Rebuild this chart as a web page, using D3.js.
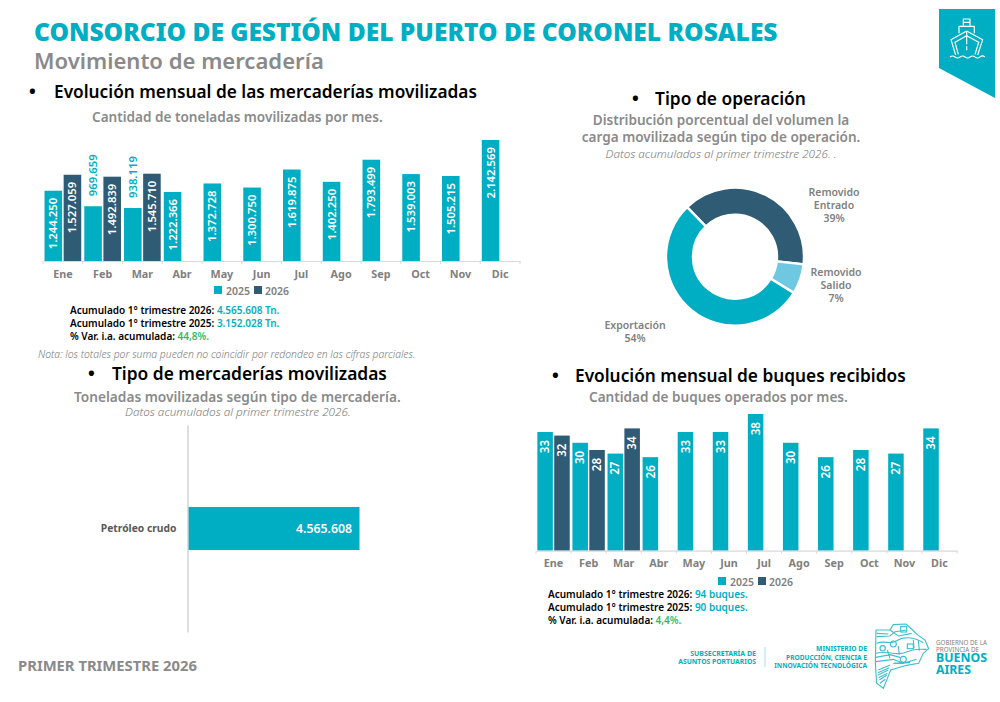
<!DOCTYPE html>
<html>
<head>
<meta charset="utf-8">
<script src="https://cdn.jsdelivr.net/npm/d3@7"></script>
<style>
    html, body { margin: 0; padding: 0; background: #fff; }
    svg { display: block; }
    text { font-family: "Noto Sans", sans-serif; }
</style>
</head>
<body>
<div id="chart"></div>
<script>
// data
var months = ["Ene", "Feb", "Mar", "Abr", "May", "Jun", "Jul", "Ago", "Sep", "Oct", "Nov", "Dic"];
var seriesNames = ["2025", "2026"];

var tons2025 = [1244250, 969659, 938119, 1222366, 1372728, 1300750, 1619875, 1402250, 1793499, 1539003, 1505215, 2142569];
var tons2026 = [1527059, 1492839, 1545710];

var ships2025 = [33, 30, 27, 26, 33, 33, 38, 30, 26, 28, 27, 34];
var ships2026 = [32, 28, 34];

var opLabels = [["Removido", "Entrado"], ["Removido", "Salido"], ["Exportación"]];
var opValues = [39, 7, 54];

var goodsLabels = ["Petróleo crudo"];
var goodsValues = [4565608];

var teal = "#00AEC3", navy = "#2F5B75", sky = "#6FC8E2", grey = "#8A8A8A", green = "#2EBB6A";

var es = d3.formatLocale({decimal: ",", thousands: ".", grouping: [3], currency: ["", ""]});
var fmt = es.format(",");

var svg = d3.select("#chart").append("svg")
    .attr("width", 1000)
    .attr("height", 702);

// text helper, w = target width in px (font size gets scaled to it)
function put(str, x, y, size, opt) {
    opt = opt || {};
    var t = svg.append("text")
        .attr("x", x).attr("y", y)
        .attr("font-size", size)
        .attr("font-weight", opt.weight || 400)
        .attr("font-style", opt.italic ? "italic" : null)
        .attr("text-anchor", opt.anchor || "start")
        .attr("fill", opt.color || "#000")
        .text(str);
    if (opt.w) {
        var len = t.node().getComputedTextLength();
        t.attr("font-size", size * opt.w / len);
    }
    return t;
}

// note line: black label followed by coloured value
function note(label, value, x, y, color) {
    var t = svg.append("text")
        .attr("x", x).attr("y", y)
        .attr("font-size", 10)
        .attr("font-weight", 600);
    t.append("tspan").attr("fill", "#000").text(label + " ");
    t.append("tspan").attr("fill", color).attr("font-weight", 600).text(value);
}

// header
put("CONSORCIO DE GESTIÓN DEL PUERTO DE CORONEL ROSALES", 34, 41, 24, {weight: 900, color: teal, w: 744});
put("Movimiento de mercadería", 34, 69, 23, {weight: 600, color: grey, w: 290});

// section titles
put("•", 29, 98, 18, {weight: 700});
put("Evolución mensual de las mercaderías movilizadas", 54, 98, 18, {weight: 600, w: 423});
put("Cantidad de toneladas movilizadas por mes.", 92, 122, 14, {weight: 600, color: grey, w: 291});

put("•", 632, 105, 18, {weight: 700});
put("Tipo de operación", 655, 105, 18, {weight: 600, w: 151});
put("Distribución porcentual del volumen la", 721, 125, 14, {weight: 600, color: grey, anchor: "middle", w: 257});
put("carga movilizada según tipo de operación.", 721, 142, 14, {weight: 600, color: grey, anchor: "middle", w: 279});
put("Datos acumulados al primer trimestre 2026. .", 721, 158, 11, {italic: true, weight: 300, color: "#7A7A7A", anchor: "middle", w: 231});

put("•", 88, 380, 18, {weight: 700});
put("Tipo de mercaderías movilizadas", 112, 380, 18, {weight: 600, w: 275});
put("Toneladas movilizadas según tipo de mercadería.", 74, 402, 14, {weight: 600, color: grey, w: 327});
put("Datos acumulados al primer trimestre 2026.", 125, 416, 11, {italic: true, weight: 300, color: "#7A7A7A", w: 226});

put("•", 552, 382, 18, {weight: 700});
put("Evolución mensual de buques recibidos", 575, 382, 18, {weight: 600, w: 331});
put("Cantidad de buques operados por mes.", 589, 402, 14, {weight: 600, color: grey, w: 259});

// grouped monthly bars, used for tons and ships
function monthlyBars(vals25, vals26, box, maxVal, labelOpt) {
    var x0 = d3.scaleBand().domain(months).range([box.left, box.right]);
    var x1 = d3.scaleBand().domain(seriesNames).range([0, x0.bandwidth()]).paddingInner(0.08).paddingOuter(0.08);
    var y = d3.scaleLinear().domain([0, maxVal]).range([box.bottom, box.top]);

    var rows = [];
    vals25.forEach(function (v, i) { rows.push({m: months[i], s: "2025", v: v}); });
    vals26.forEach(function (v, i) { rows.push({m: months[i], s: "2026", v: v}); });

    var g = svg.append("g");

    g.selectAll("rect")
        .data(rows)
        .enter().append("rect")
        .attr("x", function (d) { return x0(d.m) + x1(d.s); })
        .attr("y", function (d) { return y(d.v); })
        .attr("width", x1.bandwidth())
        .attr("height", function (d) { return box.bottom - y(d.v); })
        .attr("fill", function (d) { return d.s == "2025" ? teal : navy; });

    g.selectAll("text.val")
        .data(rows)
        .enter().append("text")
        .attr("class", "val")
        .attr("transform", function (d) {
            var outside = d.v < labelOpt.outsideBelow;
            var py = outside ? y(d.v) - labelOpt.outGap : y(d.v) + labelOpt.inGap;
            return "translate(" + (x0(d.m) + x1(d.s) + x1.bandwidth() / 2 + labelOpt.size * 0.36) + "," + py + ") rotate(-90)";
        })
        .attr("text-anchor", function (d) { return d.v < labelOpt.outsideBelow ? "start" : "end"; })
        .attr("font-size", labelOpt.size)
        .attr("font-weight", 600)
        .attr("fill", function (d) { return d.v < labelOpt.outsideBelow ? teal : "#fff"; })
        .text(function (d) { return fmt(d.v); });

    // axis
    var axis = g.append("g")
        .attr("transform", "translate(0," + box.bottom + ")")
        .call(d3.axisBottom(x0).tickSize(0).tickPadding(9));
    axis.select(".domain").attr("stroke", "#D9D9D9").attr("stroke-width", 1.2);
    axis.selectAll("text")
        .attr("font-family", "Noto Sans")
        .attr("font-size", 10.8)
        .attr("font-weight", 700)
        .attr("fill", "#808080");

    // separators between the months
    g.selectAll("line.sep")
        .data(months.concat(["end"]))
        .enter().append("line")
        .attr("class", "sep")
        .attr("x1", function (d, i) { return box.left + i * x0.step(); })
        .attr("x2", function (d, i) { return box.left + i * x0.step(); })
        .attr("y1", box.bottom)
        .attr("y2", box.bottom + 3)
        .attr("stroke", "#D9D9D9");
}

monthlyBars(tons2025, tons2026, {left: 43, right: 520, top: 140, bottom: 261}, d3.max(tons2025),
    {size: 11.3, inGap: 7, outGap: 10, outsideBelow: 1000000});
monthlyBars(ships2025, ships2026, {left: 536, right: 957, top: 414, bottom: 550.7}, d3.max(ships2025),
    {size: 11.6, inGap: 8, outGap: 0, outsideBelow: 0});

// legends
function legend(x, y) {
    svg.append("rect").attr("x", x).attr("y", y).attr("width", 8).attr("height", 8).attr("fill", teal);
    put(seriesNames[0], x + 12, y + 8.5, 11, {weight: 600, color: "#808080", w: 24});
    svg.append("rect").attr("x", x + 40).attr("y", y).attr("width", 8).attr("height", 8).attr("fill", navy);
    put(seriesNames[1], x + 51, y + 8.5, 11, {weight: 600, color: "#808080", w: 24});
}
legend(214, 286);
legend(718, 577);

// notes
note("Acumulado 1° trimestre 2026:", "4.565.608 Tn.", 70, 314, teal);
note("Acumulado 1° trimestre 2025:", "3.152.028 Tn.", 70, 327, teal);
note("% Var. i.a. acumulada:", "44,8%.", 70, 340, green);
put("Nota: los totales por suma pueden no coincidir por redondeo en las cifras parciales.", 38, 358, 9.5, {italic: true, weight: 300, color: "#7A7A7A", w: 378});

note("Acumulado 1° trimestre 2026:", "94 buques.", 548, 598, teal);
note("Acumulado 1° trimestre 2025:", "90 buques.", 548, 611, teal);
note("% Var. i.a. acumulada:", "4,4%.", 548, 624, green);

// donut
var pie = d3.pie().sort(null).value(function (d) { return d; })
    .startAngle(-44 * Math.PI / 180)
    .endAngle(316 * Math.PI / 180);
var arc = d3.arc().innerRadius(42).outerRadius(69);
var opColors = [navy, sky, teal];

var donut = svg.append("g").attr("transform", "translate(735,256.7)");
donut.selectAll("path")
    .data(pie(opValues))
    .enter().append("path")
    .attr("d", arc)
    .attr("fill", function (d, i) { return opColors[i]; })
    .attr("stroke", "#fff")
    .attr("stroke-width", 2.4);

var opLabelPos = [[834, 196], [836, 276], [635, 329]];
opLabels.forEach(function (lines, i) {
    var rows = lines.concat([opValues[i] + "%"]);
    rows.forEach(function (r, j) {
        put(r, opLabelPos[i][0], opLabelPos[i][1] + j * 13, 10.5, {weight: 600, color: "#808080", anchor: "middle"});
    });
});

// horizontal bar
var hx = d3.scaleLinear().domain([0, d3.max(goodsValues)]).range([188, 359.5]);
var hy = d3.scaleBand().domain(goodsLabels).range([425, 632]).paddingOuter(1.9);

svg.selectAll("rect.goods")
    .data(goodsValues)
    .enter().append("rect")
    .attr("class", "goods")
    .attr("x", hx(0))
    .attr("y", function (d, i) { return hy(goodsLabels[i]); })
    .attr("width", function (d) { return hx(d) - hx(0); })
    .attr("height", hy.bandwidth())
    .attr("fill", teal);

svg.selectAll("text.goodsval")
    .data(goodsValues)
    .enter().append("text")
    .attr("class", "goodsval")
    .attr("x", function (d) { return hx(d) - 7.5; })
    .attr("y", function (d, i) { return hy(goodsLabels[i]) + hy.bandwidth() / 2 + 4.5; })
    .attr("text-anchor", "end")
    .attr("font-size", 12.3)
    .attr("font-weight", 600)
    .attr("fill", "#fff")
    .text(function (d) { return fmt(d); });

var hAxis = svg.append("g")
    .attr("transform", "translate(187.5,0)")
    .call(d3.axisLeft(hy).tickSize(0).tickPadding(11));
hAxis.select(".domain").attr("stroke", "#D0D0D0").attr("stroke-width", 1.4);
hAxis.selectAll("text")
    .attr("font-family", "Noto Sans")
    .attr("font-size", 10.3)
    .attr("font-weight", 700)
    .attr("fill", "#595959");

// footer
put("PRIMER TRIMESTRE 2026", 18, 671, 14.5, {weight: 700, color: grey, w: 179});

put("SUBSECRETARÍA DE", 756, 655.5, 6, {weight: 700, color: teal, anchor: "end", w: 66});
put("ASUNTOS PORTUARIOS", 756, 663.5, 6, {weight: 700, color: teal, anchor: "end", w: 78});
svg.append("line").attr("x1", 765).attr("x2", 765).attr("y1", 647).attr("y2", 667).attr("stroke", "#A8DFE7");
put("MINISTERIO DE", 867, 651, 6, {weight: 700, color: teal, anchor: "end", w: 51});
put("PRODUCCIÓN, CIENCIA E", 867, 659.5, 6, {weight: 700, color: teal, anchor: "end", w: 81});
put("INNOVACIÓN TECNOLÓGICA", 867, 667.5, 6, {weight: 700, color: teal, anchor: "end", w: 93});
put("GOBIERNO DE LA", 936, 644.5, 6, {color: "#808080", w: 51});
put("PROVINCIA DE", 936, 651.5, 6, {color: "#808080", w: 43});
put("BUENOS", 936, 662, 12, {weight: 700, color: teal, w: 51});
put("AIRES", 936, 673.5, 12, {weight: 700, color: teal, w: 35});

// province logo, rough linework
var logo = svg.append("g").attr("transform", "translate(870,620) scale(0.3333)")
    .attr("fill", "none").attr("stroke", "#3FBECE").attr("stroke-width", 3.4);
logo.append("path").attr("d", "M18,30 L60,30 L70,14 L108,12 L128,30 L142,44 L165,60 L176,86 L160,100 L146,130 L110,136 L62,150 L52,176 L40,205 L20,190 L16,130 Z");
logo.append("path").attr("d", "M20,40 L55,42 M20,50 L60,48 L75,35 L110,30 M60,30 L85,48 L125,40 M20,70 C45,60 60,75 80,62 S130,50 160,68 M18,100 C50,90 80,110 110,96 S150,90 170,88 M18,112 L60,104 L90,112 M18,125 L70,118 L100,130 L140,118 M70,130 L120,128 M25,150 L60,135 M24,158 L58,143 M24,165 L55,150 M26,173 L52,160 M28,180 L50,166 M30,190 L46,178 M130,60 L132,85 M145,62 L148,92 M52,90 L60,115 M85,78 L88,105");
logo.append("circle").attr("cx", 70).attr("cy", 72).attr("r", 9);
logo.append("circle").attr("cx", 38).attr("cy", 85).attr("r", 8);
logo.append("circle").attr("cx", 100).attr("cy", 118).attr("r", 9);
logo.append("rect").attr("x", 92).attr("y", 20).attr("width", 18).attr("height", 16);
logo.append("rect").attr("x", 112).attr("y", 72).attr("width", 18).attr("height", 14);

// ribbon with ship icon
svg.append("path").attr("d", "M939,9 L995,9 L995,98 L939,68 Z").attr("fill", teal);
var ship = svg.append("g").attr("transform", "translate(935,5) scale(0.3333)")
    .attr("fill", "none").attr("stroke", "#fff").attr("stroke-width", 3.6).attr("stroke-linejoin", "round");
ship.append("path").attr("d", "M85,62 L85,42 L105,42 L105,62 M85,52 L105,52");
ship.append("path").attr("d", "M72,85 L72,64 L118,64 L118,85");
ship.append("path").attr("d", "M95,78 L48,104 L62,150 M95,78 L143,104 L128,150");
ship.append("path").attr("d", "M95,92 L60,112 L70,148 M95,92 L131,112 L120,148");
ship.append("path").attr("d", "M95,80 L95,118 M95,124 L95,136");
ship.append("path").attr("d", "M45,156 q8,-6 15,0 q8,6 15,0 q8,-6 15,0 q8,6 15,0 q8,-6 15,0 q8,6 15,0 q8,-6 14,0");
</script>
</body>
</html>
